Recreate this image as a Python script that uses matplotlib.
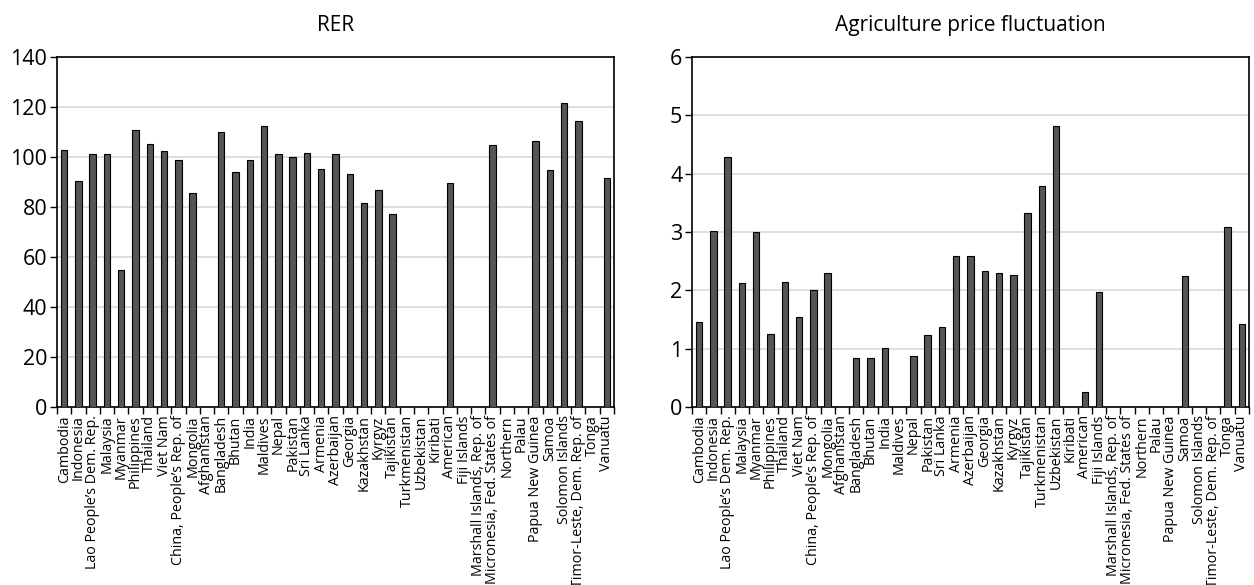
import matplotlib
matplotlib.use("Agg")
import matplotlib.pyplot as plt
import numpy as np

plt.rcParams['font.family'] = ['Open Sans', 'DejaVu Sans']

categories = [
    "Cambodia", "Indonesia", "Lao People\u2019s Dem. Rep.", "Malaysia", "Myanmar",
    "Philippines", "Thailand", "Viet Nam", "China, People\u2019s Rep. of", "Mongolia",
    "Afghanistan", "Bangladesh", "Bhutan", "India", "Maldives", "Nepal", "Pakistan",
    "Sri Lanka", "Armenia", "Azerbaijan", "Georgia", "Kazakhstan", "Kyrgyz",
    "Tajikistan", "Turkmenistan", "Uzbekistan", "Kiribati", "American", "Fiji Islands",
    "Marshall Islands, Rep. of", "Micronesia, Fed. States of", "Northern", "Palau",
    "Papua New Guinea", "Samoa", "Solomon Islands", "Timor-Leste, Dem. Rep. of",
    "Tonga", "Vanuatu",
]

nan = np.nan
rer_values = [
    103.0, 90.4, 101.3, 101.3, 55.0, 110.7, 105.4, 102.5, 98.9, 85.6,
    nan, 110.2, 94.0, 98.9, 112.6, 101.3, 100.1, 101.8, 95.1, 101.3,
    93.4, 81.5, 86.8, 77.2, nan, nan, nan, 89.8, nan, nan,
    104.7, nan, nan, 106.6, 94.7, 121.6, 114.3, nan, 91.5,
]

agri_values = [
    1.46, 3.01, 4.29, 2.12, 3.00, 1.25, 2.15, 1.54, 2.01, 2.30,
    nan, 0.84, 0.84, 1.02, nan, 0.87, 1.23, 1.37, 2.59, 2.59,
    2.33, 2.30, 2.27, 3.32, 3.79, 4.81, nan, 0.26, 1.98, nan,
    nan, nan, nan, nan, 2.24, nan, nan, 3.09, 1.43,
]

rer_ticks = [0, 20, 40, 60, 80, 100, 120, 140]
agri_ticks = [0, 1, 2, 3, 4, 5, 6]

W, H = 1254, 585
fig = plt.figure(figsize=(W / 100, H / 100), dpi=100)

def px_axes(x0, x1, y0, y1):
    return fig.add_axes([x0 / W, 1 - y1 / H, (x1 - x0) / W, (y1 - y0) / H])

ax1 = px_axes(57, 614, 57, 407)
ax2 = px_axes(692, 1249, 57, 407)

def draw(ax, values, ticks, title):
    x = np.arange(len(categories))
    vals = np.array(values, dtype=float)
    mask = ~np.isnan(vals)
    ax.bar(x[mask], vals[mask], width=0.45, color="#555555",
           edgecolor="black", linewidth=0.8, zorder=3)
    ax.set_xlim(-0.5, len(categories) - 0.5)
    ax.set_ylim(ticks[0], ticks[-1])
    ax.set_yticks(ticks)
    ax.set_yticklabels([str(t) for t in ticks], fontsize=15.5)
    ax.yaxis.grid(True, color="#d9d9d9", linewidth=1.2, zorder=0)
    ax.set_axisbelow(True)
    ax.set_xticks(x)
    ax.set_xticklabels(categories, rotation=90, fontsize=10.3, va="top", ha="center")
    ax.set_xticks(np.arange(len(categories) + 1) - 0.5, minor=True)
    ax.tick_params(axis="x", which="major", length=0, pad=6)
    ax.tick_params(axis="x", which="minor", length=5, width=1.0, direction="out")
    ax.tick_params(axis="y", length=5, width=1.0, direction="out", pad=2)
    for s in ax.spines.values():
        s.set_linewidth(1.2)
        s.set_color("black")
    ax.text(0.5, 1 + (57 - 30.7) / 350, title, transform=ax.transAxes, ha="center",
            va="baseline", fontsize=15)

draw(ax1, rer_values, rer_ticks, "RER")
draw(ax2, agri_values, agri_ticks, "Agriculture price fluctuation")

fig.savefig("out.png", dpi=100)
